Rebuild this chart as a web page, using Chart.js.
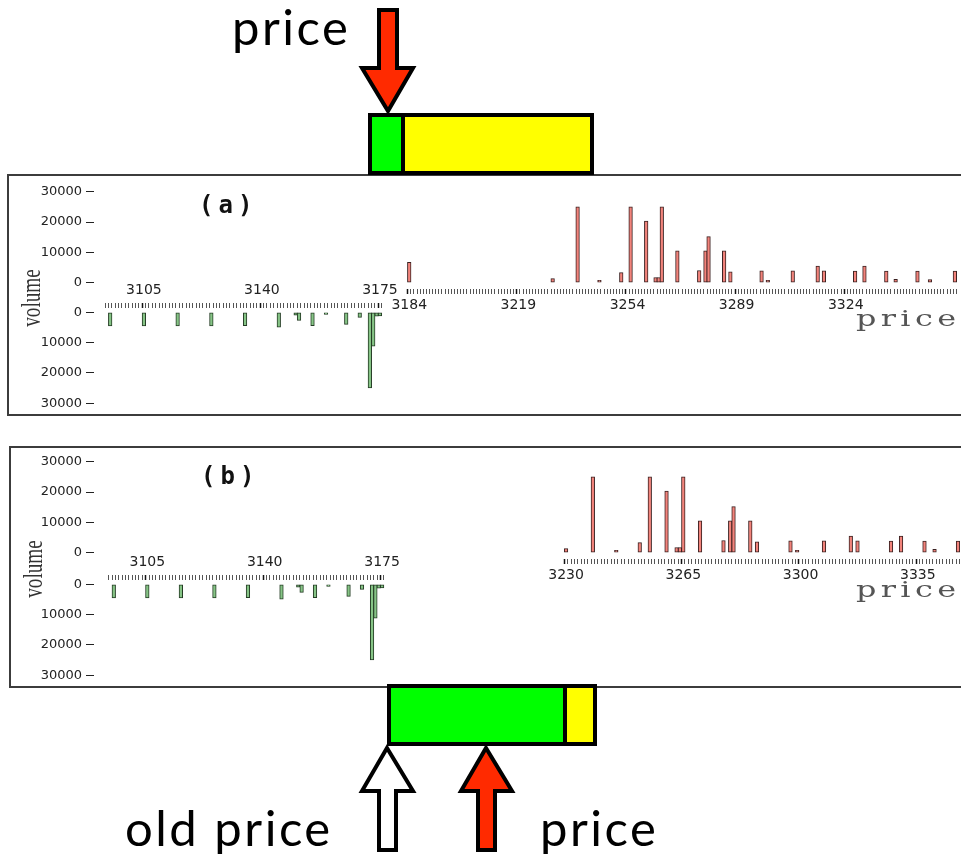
<!DOCTYPE html>
<html>
<head>
<meta charset="utf-8">
<script src="https://cdn.jsdelivr.net/npm/chart.js@4.4.1/dist/chart.umd.min.js"></script>
<style>
  html, body { margin: 0; padding: 0; background: #fff; }
  #page { position: relative; width: 961px; height: 861px; overflow: hidden; background: #fff; }
  .frame { position: absolute; border: 2px solid #3c3c3c; border-right: none; box-sizing: border-box; }
  canvas { position: absolute; left: 0; }
  .tag { position: absolute; font: bold 24px "DejaVu Sans Mono"; letter-spacing: 5px; color: #111; line-height: 1; }
  .ylab { position: absolute; width: 90px; height: 24px; line-height: 24px; text-align: center;
          font: 27px "Liberation Serif"; color: #333; transform: rotate(-90deg) scaleX(0.71); }
  .xlab { position: absolute; font: 22px "DejaVu Serif"; letter-spacing: 3px; color: #555; line-height: 1;
          transform: scaleX(1.45); transform-origin: left center; }
  svg { position: absolute; left: 0; top: 0; }
</style>
</head>
<body>
<div id="page">
  <div class="frame" style="left:7px; top:174px; width:960px; height:242px;"></div>
  <div class="frame" style="left:9px; top:446px; width:960px; height:242px;"></div>

  <canvas id="askA" width="961" height="139" style="top:180px"></canvas>
  <canvas id="bidA" width="961" height="137" style="top:278px"></canvas>
  <canvas id="askB" width="961" height="139" style="top:450px"></canvas>
  <canvas id="bidB" width="961" height="137" style="top:550px"></canvas>

  <div class="tag" style="left:199px; top:193px;">(a)</div>
  <div class="tag" style="left:201px; top:464px;">(b)</div>
  <div class="ylab" style="left:-17px; top:286px;">volume</div>
  <div class="ylab" style="left:-15px; top:557px;">volume</div>
  <div class="xlab" style="left:856px; top:308px;">price</div>
  <div class="xlab" style="left:856px; top:579px;">price</div>

  <svg width="961" height="861">
    <g font-family="Lato" font-size="49" fill="#000" letter-spacing="2.5">
      <text x="232" y="45">price</text>
      <text x="125" y="846">old price</text>
      <text x="540" y="846">price</text>
    </g>
    <g stroke="#000" stroke-width="4" stroke-linejoin="miter">
      <!-- top: spread box before the trade -->
      <rect x="370" y="115" width="33" height="58" fill="#00ff00"/>
      <rect x="403" y="115" width="189" height="58" fill="#ffff00"/>
      <polygon points="379,10 397,10 397,68 413,68 388,111 362,68 379,68" fill="#ff2a00"/>
      <!-- bottom: spread box after the trade -->
      <rect x="389" y="686" width="176" height="58" fill="#00ff00"/>
      <rect x="565" y="686" width="30" height="58" fill="#ffff00"/>
      <polygon points="387,748 413,791 396,791 396,850 379,850 379,791 362,791" fill="#fff"/>
      <polygon points="486,748 512,791 495,791 495,850 478,850 478,791 461,791" fill="#ff2a00"/>
    </g>
  </svg>
</div>

<script>
// order book snapshots: bids (green, hanging down) and asks (red, standing up)
const yTicks = [0, 10000, 20000, 30000];

const bidPrices  = [3095, 3105, 3115, 3125, 3135, 3145, 3150, 3151, 3155, 3159, 3165, 3169, 3172, 3173, 3174, 3175];
const bidVolumes = [4500, 4500, 4500, 4500, 4400, 4900, 1000, 2700, 4400,  700, 4000, 1700, 25000, 11200, 1300, 1200];
const bidTickLabels = [3105, 3140, 3175];

// (a) before: best ask at 3184
const askPricesA  = [3184, 3230, 3238, 3245, 3252, 3255, 3260, 3263, 3264, 3265, 3270, 3277, 3279, 3280,
                     3285, 3287, 3297, 3299, 3307, 3315, 3317, 3327, 3330, 3337, 3340, 3347, 3351, 3359];
const askVolumesA = [6700, 1300, 25000, 800, 3300, 25000, 20300, 1700, 1700, 25000, 10500, 4000, 10500, 15200,
                     10500, 3600, 3900, 800, 3900, 5500, 3900, 3800, 5500, 3800, 1100, 3800, 1000, 3800];
const askTickLabelsA = [3184, 3219, 3254, 3289, 3324];

// (b) after: the 3184 level is gone, best ask at 3230
const askPricesB  = [3230, 3238, 3245, 3252, 3255, 3260, 3263, 3264, 3265, 3270, 3277, 3279, 3280,
                     3285, 3287, 3297, 3299, 3307, 3315, 3317, 3327, 3330, 3337, 3340, 3347];
const askVolumesB = [1300, 25000, 800, 3300, 25000, 20300, 1700, 1700, 25000, 10500, 4000, 10500, 15200,
                     10500, 3600, 3900, 800, 3900, 5500, 3900, 3800, 5500, 3800, 1100, 3800];
const askTickLabelsB = [3230, 3265, 3300, 3335];

Chart.defaults.font.family = "DejaVu Sans";
Chart.defaults.color = "#222";

function bookChart(id, o) {
  const isMajor = c => !!(c && c.tick && o.labels.includes(c.tick.value));
  return new Chart(document.getElementById(id), {
    type: "bar",
    data: {
      datasets: [{
        data: o.prices.map((p, i) => ({ x: p, y: o.volumes[i] })),
        backgroundColor: o.fill,
        borderColor: o.edge,
        borderWidth: 1,
        borderSkipped: false,
        barThickness: 3.6
      }]
    },
    options: {
      responsive: false,
      animation: false,
      layout: { padding: o.padding },
      plugins: { legend: { display: false }, tooltip: { enabled: false } },
      scales: {
        x: {
          type: "linear",
          position: o.xPos,
          min: o.xMin,
          max: o.xMax,
          offset: false,
          border: { display: false },
          grid: {
            drawOnChartArea: false,
            tickLength: 5,
            tickColor: c => isMajor(c) ? "#111" : "#555",
            tickWidth: c => isMajor(c) ? 1.5 : 1
          },
          afterBuildTicks: s => {
            const t = [];
            for (let v = o.tickFrom; v <= o.tickTo; v++) t.push({ value: v });
            s.ticks = t;
          },
          afterFit: s => { s.height = 30; },
          ticks: {
            autoSkip: false, maxRotation: 0, minRotation: 0,
            padding: o.xPad,
            font: { size: 14 },
            callback: v => o.labels.includes(v) ? String(v) : ""
          }
        },
        y: {
          min: o.yMin,
          max: 30000,
          reverse: o.reverse,
          border: { display: false },
          grid: { drawOnChartArea: false, tickLength: 8, tickColor: "#222" },
          afterBuildTicks: s => { s.ticks = yTicks.map(v => ({ value: v })); },
          afterFit: s => { s.width = 94; },
          ticks: { padding: 4, font: { size: 13 }, callback: v => String(v) }
        }
      }
    }
  });
}

const askStyle = { fill: "#f2837b", edge: "#3a2020", xPos: "bottom", yMin: -2100, reverse: false,
                   padding: { top: 10, bottom: 0, left: 0, right: 0 }, xPad: 3 };
const bidStyle = { fill: "#86c486", edge: "#243c24", xPos: "top", yMin: -1400, reverse: true,
                   padding: { top: 0, bottom: 10, left: 0, right: 0 }, xPad: 4 };

bookChart("askA", { ...askStyle, prices: askPricesA, volumes: askVolumesA, labels: askTickLabelsA,
                    xMin: 3082.9, xMax: 3360.3, tickFrom: 3184, tickTo: 3360 });
bookChart("bidA", { ...bidStyle, prices: bidPrices, volumes: bidVolumes, labels: bidTickLabels,
                    xMin: 3090.2, xMax: 3347.3, tickFrom: 3094, tickTo: 3175 });
bookChart("askB", { ...askStyle, prices: askPricesB, volumes: askVolumesB, labels: askTickLabelsB,
                    xMin: 3089.1, xMax: 3347.6, tickFrom: 3230, tickTo: 3347 });
bookChart("bidB", { ...bidStyle, prices: bidPrices, volumes: bidVolumes, labels: bidTickLabels,
                    xMin: 3089.1, xMax: 3347.6, tickFrom: 3094, tickTo: 3175 });
</script>
</body>
</html>
